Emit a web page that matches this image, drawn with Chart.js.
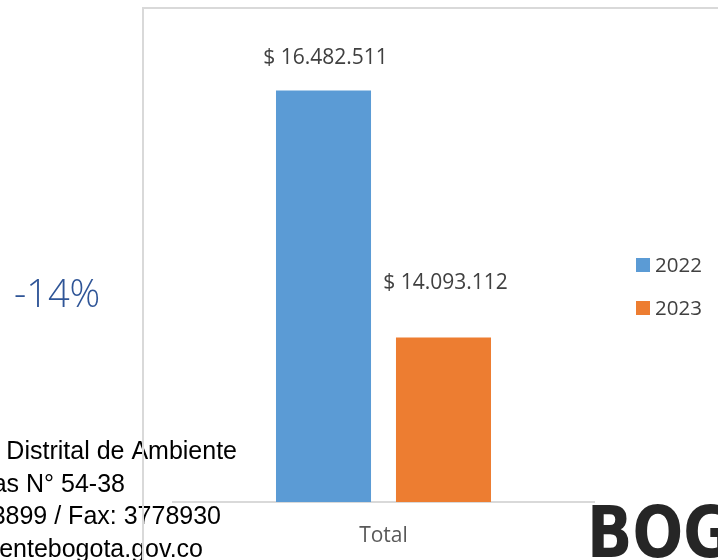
<!DOCTYPE html>
<html>
<head>
<meta charset="utf-8">
<script src="https://cdn.jsdelivr.net/npm/chart.js@4"></script>
<style>body{margin:0;background:#fff}</style>
</head>
<body>
<canvas id="chart" width="718" height="560"></canvas>
<script>
// data
const categories = ['Total'];
const years = ['2022', '2023'];
const values2022 = [16482511];
const values2023 = [14093112];
const barColors = ['#5B9BD5', '#ED7D31'];
const changeText = '-14%';
const footerLines = ['Distrital de Ambiente', 'as N° 54-38', '3899 / Fax: 3778930', 'entebogota.gov.co'];

function money(v){
  return '$ ' + String(v).replace(/\B(?=(\d{3})+(?!\d))/g, '.');
}

const labelsPlugin = {
  id: 'barLabels',
  afterDatasetsDraw(chart, args, opts){
    const ctx = chart.ctx;
    ctx.save();
    ctx.font = opts.font;
    ctx.fillStyle = opts.color;
    ctx.textAlign = 'center';
    ctx.textBaseline = 'middle';
    chart.data.datasets.forEach((ds, i) => {
      chart.getDatasetMeta(i).data.forEach((bar, j) => {
        ctx.fillText(money(ds.data[j]), bar.x + 2, bar.y - opts.gap[i]);
      });
    });
    ctx.restore();
  }
};

const decorPlugin = {
  id: 'decor',
  beforeDraw(chart){
    const ctx = chart.ctx;
    ctx.save();
    ctx.fillStyle = '#fff';
    ctx.fillRect(0, 0, chart.width, chart.height);
    ctx.restore();
  },
  afterDraw(chart){
    const ctx = chart.ctx;
    ctx.save();
    // change percentage
    ctx.fillStyle = '#2F5597';
    ctx.font = '300 38px "Open Sans"';
    ctx.textAlign = 'left';
    ctx.textBaseline = 'alphabetic';
    ctx.fillText(changeText, 14, 307);

    // footer text (cut off at left)
    ctx.fillStyle = '#000';
    ctx.font = '25px "Liberation Sans"';
    ctx.textAlign = 'right';
    const rights = [237, 125, 221, 203];
    footerLines.forEach((t, i) => {
      ctx.fillText(t, rights[i], 459 + i * 32.7);
    });

    // logo
    ctx.save();
    ctx.fillStyle = '#262626';
    ctx.font = 'bold 71px "DejaVu Sans"';
    ctx.textAlign = 'left';
    ctx.translate(587, 557);
    ctx.scale(0.84, 1);
    ctx.fillText('BOG', 0, 0);
    ctx.restore();

    // frame
    ctx.strokeStyle = '#D9D9D9';
    ctx.lineWidth = 2;
    ctx.beginPath();
    ctx.moveTo(143, 560);
    ctx.lineTo(143, 8);
    ctx.lineTo(718, 8);
    ctx.stroke();

    // legend
    ctx.font = '20.5px "Open Sans"';
    ctx.textAlign = 'left';
    ctx.textBaseline = 'middle';
    chart.data.datasets.forEach((ds, i) => {
      const y = 258 + i * 43;
      ctx.fillStyle = ds.backgroundColor;
      ctx.fillRect(636, y, 14, 14);
      ctx.fillStyle = '#404040';
      ctx.fillText(ds.label, 655, y + 8);
    });
    ctx.restore();
  }
};

new Chart(document.getElementById('chart'), {
  type: 'bar',
  data: {
    labels: categories,
    datasets: [
      { label: years[0], data: values2022, backgroundColor: barColors[0] },
      { label: years[1], data: values2023, backgroundColor: barColors[1] }
    ]
  },
  options: {
    responsive: false,
    animation: false,
    devicePixelRatio: 1,
    layout: { padding: { left: 173, right: 124, top: 37, bottom: 0 } },
    datasets: { bar: { categoryPercentage: 0.57, barPercentage: 0.792 } },
    scales: {
      x: {
        grid: { display: false, drawTicks: false },
        border: { color: '#D9D9D9', width: 2 },
        ticks: { color: '#595959', font: { family: 'Open Sans', size: 21 }, padding: 21 },
        afterFit(scale){ scale.height = 58; }
      },
      y: { display: false, min: 12500000, max: 17000000 }
    },
    plugins: {
      legend: { display: false },
      tooltip: { enabled: false },
      barLabels: { font: '21px "Open Sans"', color: '#404040', gap: [32, 54] }
    }
  },
  plugins: [labelsPlugin, decorPlugin]
});
</script>
</body>
</html>
